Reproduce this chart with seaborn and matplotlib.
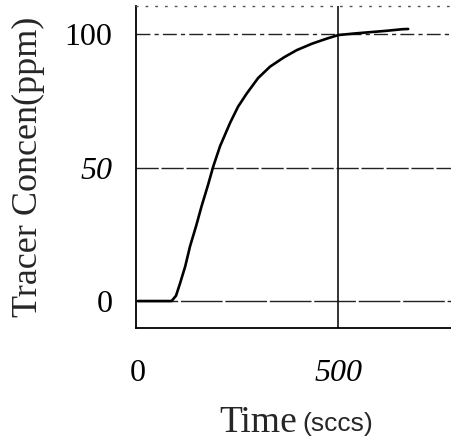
import matplotlib
matplotlib.use("Agg")
import matplotlib.pyplot as plt
import seaborn as sns
import pandas as pd

# data
time_s = [0, 40, 84, 95, 105, 118, 130, 145, 159, 175, 188, 205, 230, 250, 272, 300, 330, 365, 397, 435, 472, 500, 540, 580, 620, 660, 675]
conc_ppm = [0, 0, 0, 2, 6.6, 13, 20.5, 28, 35.6, 43.5, 50.4, 58, 66.7, 72.8, 77.8, 83.5, 87.8, 91.3, 94.0, 96.4, 98.3, 99.6, 100.2, 100.7, 101.2, 101.8, 101.9]
x_ticks = [0, 500]
x_tick_labels = ["0", "500"]
y_ticks = [0, 50, 100]
y_tick_labels = ["0", "50", "100"]

sns.set_style("white")
plt.rcParams["font.family"] = ["Liberation Serif", "DejaVu Serif"]

fig = plt.figure(figsize=(4.51, 4.43), dpi=100)
ax = fig.add_axes([136/451, 1-328/443, 1-136/451, (328-6)/443])

df = pd.DataFrame({"Time": time_s, "Conc": conc_ppm})

ax.axhline(0, color="#222222", lw=1.0, ls=(0, (30, 2)), zorder=1)
ax.axhline(50, color="#222222", lw=1.0, ls=(0, (16, 2)), zorder=1)
ax.axhline(100, color="#222222", lw=1.0, ls=(0, (10, 3, 3, 3)), zorder=1)
ax.axvline(500, color="#111111", lw=1.2, zorder=1)

sns.lineplot(data=df, x="Time", y="Conc", color="black", lw=1.9, ax=ax, zorder=3)

ax.set_xlim(-5, 782)
ax.set_ylim(-10.1, 110.5)
ax.set_xticks(x_ticks)
ax.set_xticklabels(x_tick_labels)
ax.set_yticks(y_ticks)
ax.set_yticklabels(y_tick_labels)
ax.tick_params(axis="both", length=0, labelsize=23, colors="black")
ax.tick_params(axis="x", pad=22)
ax.tick_params(axis="y", pad=17)
for lbl in ax.get_xticklabels():
    if lbl.get_text() == "500":
        lbl.set_fontstyle("italic")
for lbl in ax.get_yticklabels():
    if lbl.get_text() == "50":
        lbl.set_fontstyle("italic")

ax.set_xlabel("")
ax.set_ylabel("Tracer Concen(ppm)", fontsize=26)
ax.yaxis.set_label_coords((45-136)/315, 0.5)

for s in ["left", "bottom"]:
    ax.spines[s].set_color("black")
    ax.spines[s].set_linewidth(1.3)
ax.spines["right"].set_visible(False)
ax.spines["top"].set_linestyle((0, (1, 6)))
ax.spines["top"].set_color("#555555")
ax.spines["top"].set_linewidth(1.0)

fig.text(297/451, 1-432/443, "Time", fontsize=27, ha="right", va="baseline")
fig.text(302/451, 1-431/443, "(sccs)", fontsize=19, ha="left", va="baseline",
         family=["Liberation Sans", "DejaVu Sans"])

fig.savefig("out.png", dpi=100)
